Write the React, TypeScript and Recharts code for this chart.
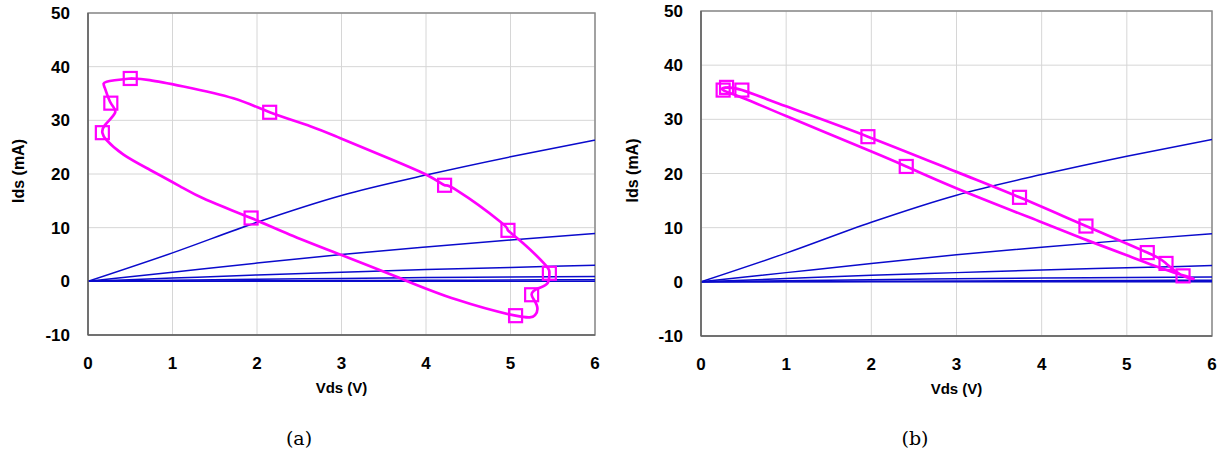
import {
  ComposedChart,
  Line,
  Scatter,
  XAxis,
  YAxis,
  CartesianGrid,
  ReferenceArea,
} from "recharts"

// transistor output curves (same family in both panels)
const vdsGrid = [0, 1, 2, 3, 4, 5, 6]
const idsVg1 = [0, 5.3, 11.0, 16.0, 19.8, 23.2, 26.3]
const idsVg2 = [0, 1.7, 3.4, 5.0, 6.4, 7.7, 8.9]
const idsVg3 = [0, 0.6, 1.2, 1.7, 2.2, 2.6, 3.0]
const idsVg4 = [0, 0.2, 0.4, 0.55, 0.7, 0.8, 0.9]
const idsVg5 = [0, 0.05, 0.1, 0.15, 0.2, 0.25, 0.3]
const idsVg6 = [0, 0, 0, 0, 0, 0, 0]

// (a) load line loop
const loopAVds = [
  0.5, 0.73, 1.13, 1.72, 2.15, 2.63, 2.98, 3.5, 4.01, 4.22, 4.37, 4.88, 4.97,
  5.15, 5.41, 5.46, 5.44, 5.33, 5.25, 5.31, 5.29, 5.06, 4.36, 3.69, 3.0, 2.39,
  1.93, 1.4, 1.09, 0.73, 0.42, 0.22, 0.17, 0.2, 0.32, 0.27, 0.2, 0.22, 0.5,
]
const loopAIds = [
  37.8, 37.5, 36.3, 34.1, 31.5, 28.9, 26.7, 23.3, 19.8, 17.9, 16.9, 11.1, 9.5,
  7.1, 3.1, 1.5, -0.3, -1.3, -2.5, -4.4, -6.3, -6.4, -3.4, 0.6, 4.9, 8.7, 11.8,
  15.2, 17.7, 20.8, 23.6, 26.3, 27.7, 29.1, 31.4, 33.2, 36.0, 37.2, 37.8,
]
const markerAVds = [0.5, 2.15, 4.22, 4.97, 5.46, 5.25, 5.06, 1.93, 0.17, 0.27]
const markerAIds = [37.8, 31.5, 17.9, 9.5, 1.5, -2.5, -6.4, 11.8, 27.7, 33.2]

// (b) load line loop
const loopBVds = [
  0.3, 0.48, 1.0, 1.96, 3.0, 3.74, 4.52, 5.24, 5.46, 5.66, 5.78, 5.5, 5.0,
  4.53, 4.0, 3.04, 2.41, 1.98, 1.0, 0.5, 0.26, 0.3,
]
const loopBIds = [
  35.9, 35.4, 32.4, 26.8, 20.3, 15.6, 10.3, 5.4, 3.4, 1.1, 0.6, 2.0, 4.9, 7.7,
  11.0, 17.0, 21.3, 24.2, 30.6, 33.9, 35.4, 35.9,
]
const markerBVds = [0.26, 0.3, 0.48, 1.96, 2.41, 3.74, 4.52, 5.24, 5.46, 5.66]
const markerBIds = [35.4, 35.9, 35.4, 26.8, 21.3, 15.6, 10.3, 5.4, 3.4, 1.1]

const xTicks = [0, 1, 2, 3, 4, 5, 6]
const yTicks = [-10, 0, 10, 20, 30, 40, 50]

const ivCurves = [idsVg1, idsVg2, idsVg3, idsVg4, idsVg5, idsVg6]

const zip = (xs: number[], ys: number[]) =>
  xs.map((v, k) => ({ v, i: ys[k] }))

const FONT = "'Liberation Sans', Arial, sans-serif"
const MAGENTA = "#ff00ff"
const BLUE = "#0a0acc"

function SquareMarker(props: any) {
  const { cx, cy } = props
  if (cx == null || cy == null) return null
  return (
    <rect
      x={cx - 6.5}
      y={cy - 6.5}
      width={13}
      height={13}
      fill="none"
      stroke={MAGENTA}
      strokeWidth={2.2}
    />
  )
}

interface PanelProps {
  loop: { v: number; i: number }[]
  markers: { v: number; i: number }[]
  left: number
  margin: { top: number; right: number; bottom: number; left: number }
  yLabelShift: number
}

function Panel({ loop, markers, left, margin, yLabelShift }: PanelProps) {
  const tickStyle = { fontSize: 17, fontWeight: 700, fill: "#000", fontFamily: FONT }
  return (
    <div style={{ position: "absolute", left, top: 0 }}>
      <ComposedChart width={610} height={400} margin={margin}>
        <CartesianGrid stroke="#d6d6d6" strokeWidth={1} />
        <ReferenceArea
          x1={0}
          x2={6}
          y1={-10}
          y2={50}
          fill="none"
          stroke="#8a8a8a"
          strokeWidth={1.5}
          fillOpacity={0}
        />
        <XAxis
          type="number"
          dataKey="v"
          domain={[0, 6]}
          ticks={xTicks}
          allowDataOverflow
          tickLine={false}
          tickSize={0}
          tickMargin={22}
          axisLine={{ stroke: "#606060", strokeWidth: 1.5 }}
          tick={tickStyle}
          height={30}
          label={{
            content: ({ viewBox }: any) => {
              const { x, y, width } = viewBox
              return (
                <text
                  x={x + width / 2}
                  y={y + 58}
                  textAnchor="middle"
                  fontSize={15}
                  fontWeight={700}
                  fontFamily={FONT}
                >
                  Vds (V)
                </text>
              )
            },
          }}
        />
        <YAxis
          type="number"
          dataKey="i"
          domain={[-10, 50]}
          ticks={yTicks}
          allowDataOverflow
          tickLine={false}
          tickSize={0}
          tickMargin={18}
          width={60}
          axisLine={{ stroke: "#606060", strokeWidth: 1.5 }}
          tick={tickStyle}
          label={{
            content: ({ viewBox }: any) => {
              const { x, y, width, height } = viewBox
              const cx = x + width - yLabelShift
              const cy = y + height / 2 - 3
              return (
                <text
                  x={cx}
                  y={cy}
                  transform={`rotate(-90 ${cx} ${cy})`}
                  textAnchor="middle"
                  dominantBaseline="central"
                  fontSize={16}
                  fontWeight={700}
                  fontFamily={FONT}
                >
                  Ids (mA)
                </text>
              )
            },
          }}
        />
        {ivCurves.map((ids, k) => (
          <Line
            key={k}
            data={zip(vdsGrid, ids)}
            dataKey="i"
            type="monotone"
            stroke={BLUE}
            strokeWidth={1.5}
            dot={false}
            activeDot={false}
            isAnimationActive={false}
          />
        ))}
        <Line
          data={loop}
          dataKey="i"
          type="natural"
          stroke={MAGENTA}
          strokeWidth={2.7}
          dot={false}
          activeDot={false}
          isAnimationActive={false}
        />
        <Scatter
          data={markers}
          dataKey="i"
          shape={SquareMarker}
          isAnimationActive={false}
        />
      </ComposedChart>
    </div>
  )
}

export default function App() {
  const caption = {
    position: "absolute" as const,
    top: 427,
    fontFamily: "'DejaVu Serif', 'Liberation Serif', serif",
    fontSize: 19,
    width: 60,
    textAlign: "center" as const,
  }
  return (
    <div
      style={{
        position: "absolute",
        left: 0,
        top: 0,
        width: 1222,
        height: 456,
        background: "#fff",
        overflow: "hidden",
      }}
    >
      <Panel
        loop={zip(loopAVds, loopAIds)}
        markers={zip(markerAVds, markerAIds)}
        left={0}
        margin={{ top: 13, right: 15, bottom: 35, left: 28 }}
        yLabelShift={70}
      />
      <Panel
        loop={zip(loopBVds, loopBIds)}
        markers={zip(markerBVds, markerBIds)}
        left={612}
        margin={{ top: 11, right: 10, bottom: 34, left: 29 }}
        yLabelShift={69}
      />
      <div style={{ ...caption, left: 269 }}>(a)</div>
      <div style={{ ...caption, left: 885 }}>(b)</div>
    </div>
  )
}
